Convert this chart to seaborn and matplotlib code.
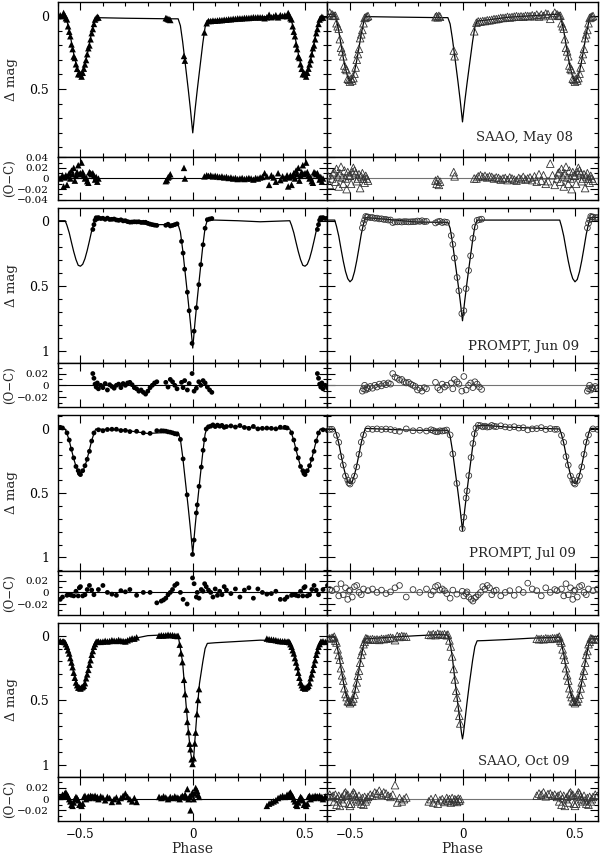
import numpy as np
import pandas as pd
import matplotlib
matplotlib.use("Agg")
import matplotlib.pyplot as plt
import seaborn as sns
from matplotlib.ticker import MultipleLocator, FuncFormatter

NA = float("nan")

# ---------------- model light curves (phase knots, delta mag) ----------------
MODEL_PHASE = [-0.6, -0.568, -0.56, -0.55, -0.54, -0.53, -0.52, -0.51, -0.5, -0.49, -0.48, -0.47, -0.46, -0.45, -0.44, -0.432,
               -0.3, -0.2, -0.1,
               -0.065, -0.055, -0.045, -0.03, -0.02, -0.01, -0.004, 0.0, 0.004, 0.01, 0.02, 0.03, 0.045, 0.055, 0.065,
               0.1, 0.2, 0.3,
               0.432, 0.44, 0.45, 0.46, 0.47, 0.48, 0.49, 0.5, 0.51, 0.52, 0.53, 0.54, 0.55, 0.56, 0.568, 0.6]

MODEL_MAY08_L = [-0.003, -0.005, 0.036, 0.098, 0.18, 0.258, 0.326, 0.374, 0.39, 0.377, 0.332, 0.267, 0.19, 0.11, 0.05, 0.012,
                 0.016, 0.018, 0.02,
                 0.02, 0.067, 0.176, 0.371, 0.503, 0.644, 0.738, 0.80, 0.74, 0.646, 0.507, 0.377, 0.184, 0.077, 0.03,
                 0.028, 0.018, 0.008,
                 -0.005, 0.036, 0.098, 0.18, 0.258, 0.326, 0.374, 0.39, 0.377, 0.332, 0.267, 0.19, 0.11, 0.05, 0.012, 0.013]
MODEL_MAY08_R = [-0.01, -0.012, 0.032, 0.102, 0.196, 0.286, 0.362, 0.418, 0.445, 0.43, 0.38, 0.305, 0.217, 0.122, 0.05, 0.005,
                 0.008, 0.01, 0.012,
                 0.012, 0.055, 0.154, 0.331, 0.452, 0.581, 0.667, 0.725, 0.669, 0.587, 0.463, 0.346, 0.173, 0.076, 0.035,
                 0.03, 0.01, 0.0,
                 -0.012, 0.032, 0.102, 0.196, 0.286, 0.362, 0.418, 0.445, 0.43, 0.38, 0.305, 0.217, 0.122, 0.05, 0.005, 0.005]
MODEL_JUN09_L = [0.0, 0.0, 0.036, 0.093, 0.167, 0.238, 0.299, 0.343, 0.35, 0.335, 0.292, 0.229, 0.155, 0.077, 0.018, -0.02,
                 0.0, 0.03, 0.03,
                 0.03, 0.087, 0.221, 0.461, 0.622, 0.792, 0.905, 0.98, 0.90, 0.781, 0.604, 0.436, 0.191, 0.054, -0.005,
                 -0.005, 0.0, 0.008,
                 0.0, 0.036, 0.093, 0.167, 0.238, 0.299, 0.343, 0.35, 0.335, 0.292, 0.229, 0.155, 0.077, 0.018, -0.02, -0.02]
MODEL_JUN09_R = [-0.005, -0.005, 0.043, 0.118, 0.216, 0.31, 0.39, 0.446, 0.47, 0.452, 0.392, 0.307, 0.208, 0.104, 0.025, -0.025,
                 -0.005, 0.01, 0.012,
                 0.012, 0.057, 0.163, 0.354, 0.483, 0.619, 0.71, 0.77, 0.708, 0.615, 0.475, 0.343, 0.15, 0.042, -0.005,
                 -0.005, -0.005, -0.005,
                 -0.005, 0.043, 0.118, 0.216, 0.31, 0.39, 0.446, 0.47, 0.452, 0.392, 0.307, 0.208, 0.104, 0.025, -0.025, -0.025]
MODEL_JUL09_L = [0.0, 0.0, 0.035, 0.09, 0.162, 0.231, 0.29, 0.331, 0.345, 0.331, 0.29, 0.231, 0.162, 0.09, 0.035, 0.0,
                 0.01, 0.035, 0.025,
                 0.025, 0.081, 0.213, 0.452, 0.614, 0.784, 0.897, 0.97, 0.89, 0.769, 0.591, 0.423, 0.178, 0.04, -0.02,
                 -0.025, -0.02, -0.005,
                 0.0, 0.035, 0.09, 0.162, 0.231, 0.29, 0.331, 0.345, 0.331, 0.29, 0.231, 0.162, 0.09, 0.035, 0.0, 0.0]
MODEL_JUL09_R = [0.0, 0.0, 0.043, 0.11, 0.2, 0.285, 0.358, 0.41, 0.425, 0.41, 0.357, 0.283, 0.197, 0.107, 0.04, -0.005,
                 0.005, 0.01, 0.01,
                 0.01, 0.056, 0.164, 0.361, 0.493, 0.634, 0.727, 0.79, 0.725, 0.628, 0.481, 0.343, 0.139, 0.025, -0.025,
                 -0.028, -0.015, -0.008,
                 0.0, 0.043, 0.11, 0.2, 0.285, 0.358, 0.41, 0.425, 0.41, 0.357, 0.283, 0.197, 0.107, 0.04, -0.005, -0.005]
MODEL_OCT09_L = [0.035, 0.04, 0.078, 0.138, 0.218, 0.293, 0.359, 0.404, 0.42, 0.405, 0.362, 0.297, 0.223, 0.144, 0.083, 0.045,
                 0.035, 0.0, -0.008,
                 0.0, 0.1, 0.21, 0.53, 0.73, 0.9, 0.96, 0.99, 0.95, 0.8, 0.57, 0.37, 0.2, 0.1, 0.06,
                 0.055, 0.045, 0.035,
                 0.04, 0.078, 0.138, 0.218, 0.293, 0.359, 0.404, 0.42, 0.405, 0.362, 0.297, 0.223, 0.144, 0.083, 0.045, 0.045]
MODEL_OCT09_R = [0.01, 0.012, 0.063, 0.144, 0.252, 0.354, 0.44, 0.5, 0.535, 0.502, 0.447, 0.362, 0.265, 0.157, 0.076, 0.025,
                 0.01, 0.0, -0.008,
                 -0.005, 0.055, 0.17, 0.4, 0.54, 0.68, 0.76, 0.80, 0.76, 0.67, 0.52, 0.38, 0.19, 0.085, 0.04,
                 0.038, 0.03, 0.02,
                 0.012, 0.063, 0.144, 0.252, 0.354, 0.44, 0.5, 0.535, 0.502, 0.447, 0.362, 0.265, 0.157, 0.076, 0.025, 0.025]

# ---------------- observations: SAAO May 08 ----------------
PH_MAY08 = [-0.5, -0.495, -0.49, -0.485, -0.48, -0.475, -0.47, -0.465, -0.46, -0.455, -0.45, -0.445, -0.44, -0.435, -0.43, -0.425, -0.42,
            -0.12, -0.115, -0.11, -0.105, -0.10,
            -0.039, -0.035,
            0.052,
            0.062, 0.07, 0.08, 0.09, 0.10, 0.11, 0.12, 0.13, 0.14, 0.15, 0.16, 0.17, 0.18, 0.19, 0.20, 0.21, 0.22, 0.23, 0.24, 0.25,
            0.26, 0.27, 0.28, 0.29, 0.30, 0.31, 0.32, 0.33, 0.34, 0.35, 0.36, 0.37,
            0.38, 0.39, 0.40, 0.41, 0.42, 0.425,
            0.43, 0.435, 0.44, 0.445, 0.45, 0.455, 0.46, 0.465, 0.47, 0.475, 0.48, 0.485, 0.49, 0.495]
MAG_MAY08_L = [0.40, 0.415, 0.389, 0.361, 0.332, 0.302, 0.262, 0.221, 0.202, 0.16, 0.118, 0.09, 0.055, 0.025, 0.015, 0.006, 0.012,
               0.015, 0.017, 0.022, 0.024, 0.028,
               0.274, 0.306,
               0.113,
               0.05, 0.035, 0.035, 0.032, 0.033, 0.031, 0.029, 0.029, 0.026, 0.026, 0.023, 0.023, 0.02, 0.02, 0.017, 0.017, 0.017, 0.014, 0.014, 0.014,
               0.012, 0.009, 0.011, 0.009, 0.01, 0.01, 0.016, 0.009, -0.008, 0.009, 0.004, -0.005,
               0.01, -0.005, 0.001, -0.004, 0.002, -0.02,
               -0.003, 0.016, 0.024, 0.071, 0.108, 0.139, 0.195, 0.227, 0.278, 0.288, 0.331, 0.362, 0.399, 0.39]
OC_MAY08_L = [0.01, 0.03, 0.012, 0.005, 0.0, 0.002, -0.005, -0.008, 0.012, 0.01, 0.008, 0.01, 0.005, -0.002, 0.003, -0.006, 0.0,
              -0.005, -0.003, 0.002, 0.004, 0.008,
              0.02, 0.0,
              0.004,
              0.006, 0.005, 0.006, 0.004, 0.005, 0.004, 0.003, 0.004, 0.002, 0.003, 0.001, 0.002, 0.0, 0.001, -0.001, 0.0, 0.001, -0.001, 0.0, 0.001,
              0.0, -0.002, 0.001, 0.0, 0.002, 0.003, 0.01, 0.004, -0.012, 0.006, 0.002, -0.006,
              0.01, -0.003, 0.004, 0.0, 0.006, -0.015,
              0.002, 0.006, -0.012, 0.004, 0.01, 0.0, 0.015, 0.008, 0.02, -0.004, 0.005, 0.012, 0.025, 0.008]
MAG_MAY08_R = [0.45, 0.43, 0.442, 0.425, 0.395, 0.353, 0.30, 0.261, 0.225, 0.152, 0.126, 0.096, 0.05, 0.014, 0.01, 0.005, 0.001,
               0.008, 0.002, 0.01, 0.0, 0.006,
               0.237, 0.276,
               0.105,
               0.047, 0.038, 0.039, 0.035, 0.035, 0.03, 0.03, 0.027, 0.022, 0.022, 0.019, 0.014, 0.014, 0.013, 0.007, 0.011, 0.008, 0.005, 0.002, 0.006,
               0.003, 0.006, 0.0, 0.001, 0.002, -0.004, 0.002, -0.009, 0.004, -0.009, 0.001, -0.016,
               -0.012, 0.02, -0.003, -0.022, -0.011, -0.002,
               0.0, -0.001, 0.05, 0.071, 0.087, 0.159, 0.218, 0.243, 0.276, 0.339, 0.362, 0.37, 0.43, 0.437]
OC_MAY08_R = [0.005, -0.01, 0.012, 0.02, 0.015, 0.01, -0.005, 0.0, 0.008, -0.018, 0.004, 0.01, 0.0, -0.008, 0.005, 0.0, -0.004,
              -0.004, -0.01, -0.002, -0.012, -0.006,
              0.012, 0.004,
              0.0,
              0.0, 0.004, 0.006, 0.003, 0.005, 0.002, 0.004, 0.003, 0.0, 0.002, 0.001, -0.002, 0.0, 0.001, -0.003, 0.002, 0.0, -0.002, -0.004, 0.001,
              -0.001, 0.003, -0.002, 0.0, 0.002, -0.003, 0.004, -0.006, 0.008, -0.004, 0.006, -0.01,
              -0.005, 0.028, 0.006, -0.012, 0.0, 0.01,
              0.012, -0.006, 0.018, 0.004, -0.015, 0.01, 0.022, 0.002, -0.01, 0.015, 0.0, -0.02, 0.012, 0.005]

# ---------------- observations: PROMPT Jun 09 ----------------
PH_JUN09 = [-0.445, -0.44, -0.435, -0.43, -0.425, -0.42, -0.41, -0.40, -0.39, -0.38, -0.37, -0.36, -0.35, -0.34, -0.33, -0.32,
            -0.31, -0.30, -0.29, -0.28, -0.27, -0.26, -0.25, -0.24, -0.23, -0.22, -0.21, -0.20, -0.19, -0.18, -0.17, -0.16,
            -0.12, -0.11, -0.10, -0.09, -0.08, -0.07,
            -0.05, -0.043, -0.036, -0.024, -0.016, -0.003, 0.006, 0.016, 0.027, 0.036, 0.046, 0.055, 0.065, 0.075, 0.085]
MAG_JUN09_L = [0.067, 0.03, -0.004, -0.023, -0.015, -0.024, -0.017, -0.019, -0.011, -0.02, -0.01, -0.011, -0.013, -0.006, -0.003, -0.007,
               0.001, 0.0, 0.007, 0.011, 0.01, 0.008, 0.009, 0.008, 0.013, 0.012, 0.012, 0.02, 0.026, 0.03, 0.034, 0.036,
               0.035, 0.027, 0.04, 0.036, 0.03, 0.024,
               0.159, 0.249, 0.373, 0.55, 0.693, 0.944, 0.85, 0.67, 0.492, 0.338, 0.185, 0.058, -0.008, -0.013, -0.017]
OC_JUN09_L = [0.02, 0.012, 0.002, -0.003, 0.004, -0.006, 0.0, -0.004, 0.003, -0.008, 0.001, -0.002, -0.005, 0.0, 0.002, -0.004,
              0.003, 0.0, 0.004, 0.005, 0.001, -0.004, -0.006, -0.01, -0.008, -0.012, -0.015, -0.01, -0.004, 0.0, 0.004, 0.006,
              0.005, -0.003, 0.01, 0.006, 0.0, -0.006,
              0.005, -0.004, 0.008, -0.008, 0.003, 0.02, -0.01, -0.005, 0.006, 0.0, 0.008, 0.004, -0.003, -0.008, -0.012]
MAG_JUN09_R = [0.055, 0.019, -0.006, -0.033, -0.028, -0.029, -0.024, -0.025, -0.019, -0.02, -0.014, -0.015, -0.01, -0.01, -0.005, -0.006,
               0.014, 0.009, 0.009, 0.007, 0.01, 0.007, 0.007, 0.009, 0.008, 0.007, 0.007, 0.002, 0.005, 0.0, 0.007, 0.005,
               0.017, 0.008, 0.004, 0.014, 0.009, 0.012,
               0.114, 0.182, 0.287, 0.437, 0.539, 0.715, 0.692, 0.523, 0.383, 0.27, 0.135, 0.048, -0.003, -0.008, -0.012]
OC_JUN09_R = [-0.01, -0.006, 0.0, -0.008, -0.004, -0.006, -0.002, -0.005, 0.0, -0.003, 0.002, -0.001, 0.003, 0.001, 0.004, 0.002,
              0.02, 0.014, 0.012, 0.009, 0.01, 0.006, 0.004, 0.005, 0.002, 0.0, -0.002, -0.008, -0.005, -0.01, -0.004, -0.006,
              0.005, -0.004, -0.008, 0.002, -0.003, 0.0,
              0.004, -0.006, 0.01, 0.006, 0.002, -0.01, 0.015, -0.008, 0.0, 0.004, -0.004, 0.006, 0.002, -0.003, -0.007]

# ---------------- observations: PROMPT Jul 09 ----------------
PH_JUL09 = [-0.5, -0.49, -0.48, -0.47, -0.46, -0.45, -0.44,
            -0.42, -0.40, -0.38, -0.36, -0.34, -0.32, -0.30, -0.28, -0.25, -0.22, -0.19, -0.16, -0.14, -0.13, -0.12, -0.11, -0.10, -0.09, -0.08, -0.07,
            -0.055, -0.043, -0.025, -0.001, 0.006, 0.016, 0.02, 0.028, 0.038, 0.046, 0.053,
            0.06, 0.07, 0.08, 0.09, 0.10, 0.11, 0.12, 0.13, 0.14, 0.15, 0.17, 0.19, 0.21, 0.23, 0.25, 0.27, 0.29, 0.31, 0.33, 0.35, 0.37, 0.39, 0.41, 0.42,
            0.44, 0.45, 0.46, 0.47, 0.48, 0.49, 0.495]
MAG_JUL09_L = [0.355, 0.325, 0.286, 0.236, 0.174, 0.094, 0.031,
               0.006, 0.014, 0.004, 0.002, 0.002, 0.012, 0.011, 0.02, 0.018, 0.03, 0.034, 0.013, 0.014, 0.015, 0.017, 0.022, 0.025, 0.03, 0.037, 0.04,
               0.081, 0.233, 0.513, 0.977, 0.865, 0.654, 0.591, 0.447, 0.297, 0.166, 0.083,
               0.0, -0.017, -0.022, -0.032, -0.019, -0.03, -0.022, -0.028, -0.013, -0.019, -0.024, -0.015, -0.027, -0.012, -0.005, -0.02,
               -0.001, -0.005, -0.007, -0.005, -0.001, -0.014, -0.013, -0.008,
               0.03, 0.086, 0.157, 0.225, 0.292, 0.325, 0.346]
OC_JUL09_L = [0.01, -0.006, -0.004, 0.005, 0.012, 0.004, -0.004,
              0.005, 0.012, 0.0, -0.003, -0.005, 0.003, 0.001, 0.005, -0.005, 0.0, 0.0, -0.018, -0.015, -0.013, -0.01, -0.004, 0.0, 0.005, 0.012, 0.015,
              0.0, -0.012, -0.02, 0.025, 0.015, -0.008, 0.0, -0.01, 0.005, 0.002, 0.015,
              0.01, 0.004, 0.0, -0.008, 0.006, -0.005, 0.002, -0.004, 0.01, 0.004, -0.002, 0.006, -0.008, 0.004, 0.008, -0.01,
              0.006, 0.0, -0.003, -0.002, 0.002, -0.012, -0.012, -0.008,
              -0.005, -0.004, -0.005, -0.006, 0.002, -0.006, 0.008]
MAG_JUL09_R = [0.429, 0.402, 0.367, 0.295, 0.197, 0.103, 0.046,
               -0.001, 0.003, -0.001, 0.004, 0.0, 0.004, 0.013, 0.018, -0.001, 0.014, 0.01, 0.016, 0.006, 0.012, 0.02, 0.022, 0.014, 0.016, 0.013, 0.008,
               0.046, 0.194, 0.424, 0.776, 0.687, 0.538, 0.482, 0.363, 0.222, 0.113, 0.038,
               -0.008, -0.029, -0.026, -0.017, -0.022, -0.015, -0.017, -0.028, -0.021, -0.018, -0.025, -0.016, -0.011, -0.018, -0.007, -0.01,
               0.007, -0.001, -0.003, -0.011, 0.004, -0.003, 0.003, 0.002,
               0.049, 0.104, 0.215, 0.281, 0.366, 0.398, 0.42]
OC_JUL09_R = [0.004, -0.008, 0.01, 0.012, 0.0, -0.004, 0.006,
              0.003, 0.006, 0.0, 0.004, -0.002, 0.001, 0.008, 0.012, -0.008, 0.005, 0.0, 0.006, -0.004, 0.002, 0.01, 0.012, 0.004, 0.006, 0.003, -0.002,
              -0.01, 0.004, -0.003, 0.002, -0.006, -0.002, 0.001, -0.008, -0.012, -0.015, -0.01,
              -0.008, -0.004, 0.0, 0.01, 0.006, 0.012, 0.008, -0.004, 0.002, 0.004, -0.006, 0.0, 0.003, -0.005, 0.005, 0.0,
              0.016, 0.006, 0.003, -0.006, 0.008, 0.0, 0.005, 0.003,
              0.006, -0.006, 0.015, -0.004, 0.008, -0.012, 0.002]

# ---------------- observations: SAAO Oct 09 ----------------
PH_OCT09 = [-0.5, -0.495, -0.49, -0.485, -0.48, -0.475, -0.47, -0.465, -0.46, -0.455, -0.45, -0.445, -0.44, -0.435, -0.43,
            -0.425, -0.42, -0.41, -0.40, -0.39, -0.38, -0.37, -0.36, -0.35, -0.34, -0.33, -0.32, -0.31, -0.30, -0.29, -0.28, -0.27, -0.26, -0.25,
            -0.15, -0.14, -0.13, -0.12, -0.11, -0.10, -0.09, -0.08, -0.07,
            -0.065, -0.058, -0.052, -0.046, -0.039, -0.034, -0.028, -0.024, -0.019, -0.014, -0.01, -0.005, -0.001, 0.004, 0.009, 0.013, 0.019, 0.024, 0.028,
            0.33, 0.34, 0.35, 0.36, 0.37, 0.38, 0.39, 0.40, 0.41, 0.42,
            0.425, 0.43, 0.435, 0.44, 0.445, 0.45, 0.455, 0.46, 0.465, 0.47, 0.475, 0.48, 0.485, 0.49, 0.495]
MAG_OCT09_L = [0.41, 0.401, 0.397, 0.388, 0.368, 0.33, 0.30, 0.265, 0.225, 0.19, 0.148, 0.119, 0.086, 0.065, 0.047,
               0.048, 0.044, 0.048, 0.046, 0.04, 0.045, 0.042, 0.035, 0.039, 0.041, 0.033, 0.039, 0.042, 0.045, 0.036, 0.028, 0.021, 0.023, 0.013,
               0.0, -0.003, -0.001, -0.003, -0.007, -0.004, -0.004, 0.0, 0.002,
               0.002, 0.07, 0.137, 0.205, 0.342, 0.453, 0.573, 0.668, 0.747, 0.837, 0.88, 0.958, 0.994, 0.95, 0.835, 0.751, 0.608, 0.498, 0.414,
               0.023, 0.028, 0.03, 0.032, 0.035, 0.04, 0.042, 0.044, 0.043, 0.047,
               0.046, 0.05, 0.066, 0.086, 0.113, 0.138, 0.174, 0.208, 0.244, 0.287, 0.326, 0.363, 0.384, 0.402, 0.402]
OC_OCT09_L = [-0.01, -0.012, -0.008, 0.004, 0.006, 0.0, 0.003, 0.005, 0.002, 0.006, 0.004, 0.005, 0.003, 0.006, 0.002,
              0.004, 0.0, 0.005, 0.003, -0.002, 0.004, 0.002, -0.005, 0.0, 0.003, -0.004, 0.002, 0.006, 0.01, 0.004, 0.0, -0.004, 0.002, -0.005,
              0.004, 0.002, 0.005, 0.003, 0.0, 0.004, 0.002, 0.005, 0.003,
              0.002, 0.0, 0.004, 0.006, 0.004, 0.008, 0.003, 0.018, 0.0, 0.005, -0.02, 0.008, 0.012, 0.0, 0.01, 0.02, 0.015, 0.008, 0.004,
              -0.012, -0.008, -0.006, -0.004, -0.002, 0.002, 0.004, 0.006, 0.004, 0.008,
              0.006, 0.01, 0.012, 0.008, 0.005, 0.0, -0.004, -0.01, -0.012, -0.006, 0.0, 0.004, 0.002, -0.002, -0.01]
MAG_OCT09_R = [0.523, 0.51, 0.51, 0.487, 0.457, 0.409, 0.362, 0.31, 0.271, 0.209, 0.149, 0.119, 0.066, 0.048, 0.021,
               0.024, 0.028, 0.03, 0.027, 0.032, 0.029, 0.033, 0.025, 0.027, 0.024, 0.019, 0.016, 0.019, 0.035, 0.003, 0.01, 0.003, 0.006, 0.008,
               -0.008, -0.005, -0.012, -0.004, -0.015, -0.01, -0.007, -0.011, -0.003,
               -0.008, 0.037, 0.084, 0.161, 0.258, 0.339, 0.426, 0.479, 0.555, 0.621, 0.68, NA, NA, NA, NA, NA, NA, NA, NA,
               0.024, 0.028, 0.025, 0.028, 0.021, 0.024, 0.025, 0.02, 0.021, 0.017,
               0.018, 0.008, 0.039, 0.053, 0.106, 0.15, 0.186, 0.252, 0.307, 0.348, 0.407, 0.452, 0.476, 0.508, 0.51]
OC_OCT09_R = [-0.012, -0.008, 0.008, 0.012, 0.01, 0.004, 0.0, -0.004, 0.006, -0.002, -0.008, 0.002, -0.01, 0.004, -0.004,
              0.0, 0.004, 0.008, 0.006, 0.012, 0.01, 0.015, 0.008, 0.012, 0.01, 0.006, 0.004, 0.008, 0.025, -0.006, 0.002, -0.004, 0.0, 0.003,
              -0.004, 0.0, -0.006, 0.002, -0.008, -0.002, 0.0, -0.005, 0.002,
              -0.003, 0.0, -0.006, 0.002, -0.004, 0.0, -0.002, -0.005, 0.001, -0.003, 0.0, NA, NA, NA, NA, NA, NA, NA, NA,
              0.006, 0.01, 0.008, 0.012, 0.005, 0.009, 0.01, 0.006, 0.008, 0.004,
              0.006, -0.004, 0.008, -0.01, 0.002, 0.006, -0.012, 0.0, 0.004, -0.006, 0.01, 0.012, 0.006, 0.008, -0.008]

LABELS = ["SAAO, May 08", "PROMPT, Jun 09", "PROMPT, Jul 09", "SAAO, Oct 09"]

GROUPS = [
    (PH_MAY08, MAG_MAY08_L, OC_MAY08_L, MAG_MAY08_R, OC_MAY08_R, MODEL_MAY08_L, MODEL_MAY08_R, "^"),
    (PH_JUN09, MAG_JUN09_L, OC_JUN09_L, MAG_JUN09_R, OC_JUN09_R, MODEL_JUN09_L, MODEL_JUN09_R, "o"),
    (PH_JUL09, MAG_JUL09_L, OC_JUL09_L, MAG_JUL09_R, OC_JUL09_R, MODEL_JUL09_L, MODEL_JUL09_R, "o"),
    (PH_OCT09, MAG_OCT09_L, OC_OCT09_L, MAG_OCT09_R, OC_OCT09_R, MODEL_OCT09_L, MODEL_OCT09_R, "^"),
]

# ---------------- layout (pixel geometry) ----------------
ROWS = [(2, 157, 200), (208, 363, 407), (415, 571, 615), (623, 777, 821)]
MAIN_YLIM = [(0.965, -0.095), (1.095, -0.098), (1.106, -0.109), (1.095, -0.098)]
RES_YLIM = [(-0.0405, 0.0405), (-0.037, 0.038), (-0.039, 0.037), (-0.039, 0.0395)]
TEXT_POS = [(0.909, 0.123), (0.931, 0.105), (0.92, 0.109), (0.898, 0.10)]
COLS = [(58, 327.5), (327.5, 597.5)]

sns.set_style("ticks")
plt.rcParams["font.family"] = ["DejaVu Serif", "DejaVu Sans"]
plt.rcParams["axes.linewidth"] = 1.0
plt.rcParams["axes.unicode_minus"] = True

W, H = 600, 855
fig = plt.figure(figsize=(W / 100, H / 100), dpi=100)


def rect(x0, x1, yt, yb):
    return [x0 / W, 1 - yb / H, (x1 - x0) / W, (yb - yt) / H]


def fmt(v, pos=None):
    if abs(v) < 1e-9:
        return "0"
    return ("%g" % v).replace("-", "\u2212")


def wrapped(phase, mag, oc):
    df = pd.DataFrame({"phase": phase, "mag": mag, "oc": oc}).dropna()
    parts = [df.assign(phase=df["phase"] + k) for k in (-1.0, 0.0, 1.0)]
    df = pd.concat(parts, ignore_index=True)
    return df[(df["phase"] >= -0.605) & (df["phase"] <= 0.605)]


def style_axis(ax, major_y, minor_y, show_y, show_x, ytick_fs):
    ax.set_xlim(-0.6, 0.6)
    ax.xaxis.set_major_locator(MultipleLocator(0.5))
    ax.xaxis.set_minor_locator(MultipleLocator(0.1))
    ax.yaxis.set_major_locator(MultipleLocator(major_y))
    ax.yaxis.set_minor_locator(MultipleLocator(minor_y))
    ax.tick_params(which="both", direction="in", top=True, right=True, width=0.8, colors="k")
    ax.tick_params(which="major", length=5.5)
    ax.tick_params(which="minor", length=3)
    ax.tick_params(axis="y", which="major", pad=6.5, labelsize=ytick_fs)
    ax.tick_params(axis="x", which="major", pad=5, labelsize=8.5)
    ax.yaxis.set_major_formatter(FuncFormatter(fmt))
    ax.xaxis.set_major_formatter(FuncFormatter(fmt))
    if not show_y:
        ax.tick_params(labelleft=False)
    if not show_x:
        ax.tick_params(labelbottom=False)
    ax.set_xlabel("")
    ax.set_ylabel("")
    for s in ax.spines.values():
        s.set_visible(True)
        s.set_color("k")
        s.set_linewidth(1.0)


for gi, (ph, magL, ocL, magR, ocR, modL, modR, mk) in enumerate(GROUPS):
    yt, ym, yb = ROWS[gi]
    for ci, (mag, oc, mod) in enumerate([(magL, ocL, modL), (magR, ocR, modR)]):
        x0, x1 = COLS[ci]
        axm = fig.add_axes(rect(x0, x1, yt, ym))
        axr = fig.add_axes(rect(x0, x1, ym, yb))
        df = wrapped(ph, mag, oc)
        sns.lineplot(x=MODEL_PHASE, y=mod, ax=axm, color="k", lw=0.9, estimator=None, sort=False)
        if ci == 0:
            kw = dict(color="k", edgecolor="none", linewidth=0, s=(22 if mk == "^" else 12))
        else:
            kw = dict(facecolor="none", edgecolor="0.2", linewidth=0.6, s=(30 if mk == "^" else 17))
        sns.scatterplot(data=df, x="phase", y="mag", ax=axm, marker=mk, legend=False, zorder=3, **kw)
        axr.axhline(0, color=("k" if ci == 0 else "0.45"), lw=0.8, zorder=1)
        sns.scatterplot(data=df, x="phase", y="oc", ax=axr, marker=mk, legend=False, zorder=3, **kw)
        axm.set_ylim(*MAIN_YLIM[gi])
        axr.set_ylim(*RES_YLIM[gi])
        style_axis(axm, 0.5, 0.1, ci == 0, False, 9)
        style_axis(axr, 0.02, 0.01, ci == 0, gi == 3, 7.5)
        if ci == 1:
            tx, ty = TEXT_POS[gi]
            axm.text(tx, ty, LABELS[gi], transform=axm.transAxes, ha="right", va="center", fontsize=9.5)
        if gi == 3:
            fig.text(((x0 + x1) / 2) / W, 1 - 849 / H, "Phase", ha="center", va="center", fontsize=10)
    fig.text(11 / W, 1 - ((yt + ym) / 2) / H, "\u0394 mag", rotation=90, ha="center", va="center", fontsize=9.5)
    fig.text(10 / W, 1 - ((ym + yb) / 2) / H, "(O\u2212C)", rotation=90, ha="center", va="center", fontsize=8.5)

fig.savefig("out.png", dpi=100)
